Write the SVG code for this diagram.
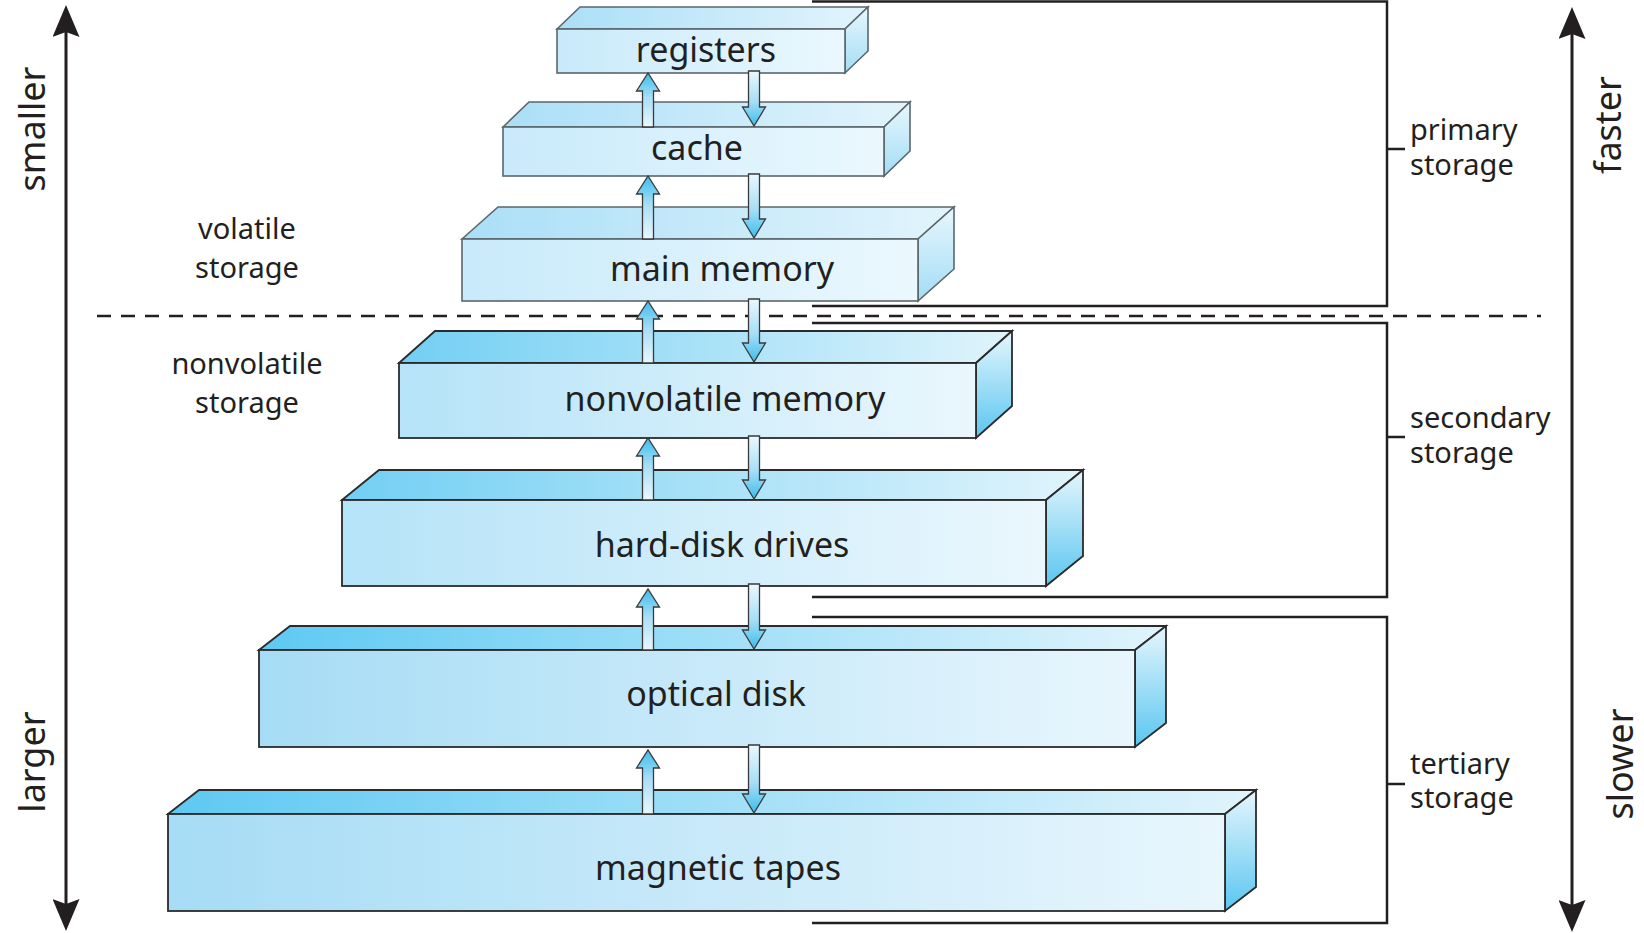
<svg xmlns="http://www.w3.org/2000/svg" width="1644" height="933" viewBox="0 0 1644 933">
<defs>
<linearGradient id="fL" x1="0" y1="0" x2="1" y2="0"><stop offset="0" stop-color="#c8eafa"/><stop offset="1" stop-color="#ebf8fe"/></linearGradient>
<linearGradient id="fM" x1="0" y1="0" x2="1" y2="0"><stop offset="0" stop-color="#b5e3f8"/><stop offset="1" stop-color="#eaf7fd"/></linearGradient>
<linearGradient id="fD" x1="0" y1="0" x2="1" y2="0"><stop offset="0" stop-color="#a6dcf5"/><stop offset="1" stop-color="#e8f6fd"/></linearGradient>
<linearGradient id="tL" x1="0" y1="0" x2="1" y2="0"><stop offset="0" stop-color="#aadff7"/><stop offset="1" stop-color="#e2f4fc"/></linearGradient>
<linearGradient id="tM" x1="0" y1="0" x2="1" y2="0"><stop offset="0" stop-color="#72cff3"/><stop offset="1" stop-color="#e0f4fc"/></linearGradient>
<linearGradient id="tD" x1="0" y1="0" x2="1" y2="0"><stop offset="0" stop-color="#5ec9f2"/><stop offset="1" stop-color="#e0f4fc"/></linearGradient>
<linearGradient id="sL" x1="0" y1="0" x2="0" y2="1"><stop offset="0" stop-color="#e8f7fd"/><stop offset="1" stop-color="#a2ddf6"/></linearGradient>
<linearGradient id="sD" x1="0" y1="0" x2="0" y2="1"><stop offset="0" stop-color="#e6f6fd"/><stop offset="1" stop-color="#5ac6f0"/></linearGradient>
<linearGradient id="gUp" x1="0" y1="1" x2="0" y2="0"><stop offset="0" stop-color="#eaf8fe"/><stop offset="0.55" stop-color="#a8def6"/><stop offset="1" stop-color="#3cbdec"/></linearGradient>
<linearGradient id="gDn" x1="0" y1="0" x2="0" y2="1"><stop offset="0" stop-color="#eaf8fe"/><stop offset="0.55" stop-color="#a8def6"/><stop offset="1" stop-color="#3cbdec"/></linearGradient>
<marker id="ah" viewBox="0 0 32 27" refX="5" refY="13.5" markerWidth="32" markerHeight="27" orient="auto-start-reverse" markerUnits="userSpaceOnUse"><path d="M0,0 L32,13.5 L0,27 L5,13.5 Z" fill="#231f20"/></marker>
</defs>
<style>
.e1{stroke:#5b666b;stroke-width:1.6;stroke-linejoin:miter}
.e2{stroke:#2b2b2b;stroke-width:1.8;stroke-linejoin:miter}
text{font-family:"Noto Sans","Open Sans",sans-serif;fill:#231f20}
.lbl{font-size:34px;text-anchor:middle}
.sm{font-size:29px}
.mid{text-anchor:middle}
.big{font-size:36px;text-anchor:middle}
.br{fill:none;stroke:#231f20;stroke-width:2.5}
.ax{fill:none;stroke:#231f20;stroke-width:3;marker-start:url(#ah);marker-end:url(#ah)}
.ua{fill:url(#gUp);stroke:#3a3a3a;stroke-width:1.3}
.da{fill:url(#gDn);stroke:#3a3a3a;stroke-width:1.3}
.dash{fill:none;stroke:#231f20;stroke-width:2.5;stroke-dasharray:14 10}
</style>
<rect width="1644" height="933" fill="#ffffff"/>

<path class="dash" d="M97,316 H1541"/>

<g id="registers">
<polygon class="e1" fill="url(#tL)" points="557,29 580,7 868,7 845,29"/>
<polygon class="e1" fill="url(#sL)" points="845,29 868,7 868,51 845,73"/>
<rect class="e1" fill="url(#fL)" x="557" y="29" width="288" height="44"/>
<text class="lbl" x="706" y="62">registers</text>
</g>
<g id="cache">
<polygon class="e1" fill="url(#tL)" points="503,127 529,102 910,102 884,127"/>
<polygon class="e1" fill="url(#sL)" points="884,127 910,102 910,151 884,176"/>
<rect class="e1" fill="url(#fL)" x="503" y="127" width="381" height="49"/>
<text class="lbl" x="697" y="160">cache</text>
</g>
<g id="main-memory">
<polygon class="e1" fill="url(#tL)" points="462,239 498,207 954,207 918,239"/>
<polygon class="e1" fill="url(#sL)" points="918,239 954,207 954,269 918,301"/>
<rect class="e1" fill="url(#fL)" x="462" y="239" width="456" height="62"/>
<text class="lbl" x="722" y="281">main memory</text>
</g>
<g id="nonvolatile-memory">
<polygon class="e2" fill="url(#tM)" points="399,363 435,331 1012,331 976,363"/>
<polygon class="e2" fill="url(#sD)" points="976,363 1012,331 1012,406 976,438"/>
<rect class="e2" fill="url(#fM)" x="399" y="363" width="577" height="75"/>
<text class="lbl" x="725" y="411">nonvolatile memory</text>
</g>
<g id="hard-disk-drives">
<polygon class="e2" fill="url(#tM)" points="342,500 379,470 1083,470 1046,500"/>
<polygon class="e2" fill="url(#sD)" points="1046,500 1083,470 1083,556 1046,586"/>
<rect class="e2" fill="url(#fM)" x="342" y="500" width="704" height="86"/>
<text class="lbl" x="722" y="557">hard-disk drives</text>
</g>
<g id="optical-disk">
<polygon class="e2" fill="url(#tD)" points="259,650 290,626 1166,626 1135,650"/>
<polygon class="e2" fill="url(#sD)" points="1135,650 1166,626 1166,723 1135,747"/>
<rect class="e2" fill="url(#fD)" x="259" y="650" width="876" height="97"/>
<text class="lbl" x="716" y="706">optical disk</text>
</g>
<g id="magnetic-tapes">
<polygon class="e2" fill="url(#tD)" points="168,814 199,790 1256,790 1225,814"/>
<polygon class="e2" fill="url(#sD)" points="1225,814 1256,790 1256,887 1225,911"/>
<rect class="e2" fill="url(#fD)" x="168" y="814" width="1057" height="97"/>
<text class="lbl" x="718" y="880">magnetic tapes</text>
</g>

<g id="connectors">
<path class="ua" d="M642.5,127 V91 H636.5 L648,73 L659.5,91 H653.5 V127 Z"/>
<path class="da" d="M748.5,71 H759.5 V107 H765.5 L754,126 L742.5,107 H748.5 Z"/>
<path class="ua" d="M642.5,239 V194 H636.5 L648,176 L659.5,194 H653.5 V239 Z"/>
<path class="da" d="M748.5,174 H759.5 V219 H765.5 L754,238 L742.5,219 H748.5 Z"/>
<path class="ua" d="M642.5,363 V319 H636.5 L648,301 L659.5,319 H653.5 V363 Z"/>
<path class="da" d="M748.5,299 H759.5 V343 H765.5 L754,362 L742.5,343 H748.5 Z"/>
<path class="ua" d="M642.5,500 V456 H636.5 L648,438 L659.5,456 H653.5 V500 Z"/>
<path class="da" d="M748.5,436 H759.5 V480 H765.5 L754,499 L742.5,480 H748.5 Z"/>
<path class="ua" d="M642.5,650 V607 H636.5 L648,589 L659.5,607 H653.5 V650 Z"/>
<path class="da" d="M748.5,584 H759.5 V630 H765.5 L754,649 L742.5,630 H748.5 Z"/>
<path class="ua" d="M642.5,814 V768 H636.5 L648,750 L659.5,768 H653.5 V814 Z"/>
<path class="da" d="M748.5,745 H759.5 V794 H765.5 L754,813 L742.5,794 H748.5 Z"/>
</g>

<g id="brackets">
<path class="br" d="M812,1.5 H1387 V306 H812 M1387,149 H1405"/>
<path class="br" d="M812,323 H1387 V597 H812 M1387,437 H1405"/>
<path class="br" d="M812,617 H1387 V923 H812 M1387,784 H1405"/>
</g>

<g id="axes">
<path class="ax" d="M66,32 V904"/>
<path class="ax" d="M1572,34 V905"/>
<text class="big" transform="translate(45,129) rotate(-90)">smaller</text>
<text class="big" transform="translate(45,762) rotate(-90)">larger</text>
<text class="big" transform="translate(1621,125) rotate(-90)">faster</text>
<text class="big" transform="translate(1633,764) rotate(-90)">slower</text>
</g>

<g id="labels">
<text class="sm mid" x="247" y="239">volatile</text>
<text class="sm mid" x="247" y="278">storage</text>
<text class="sm mid" x="247" y="374">nonvolatile</text>
<text class="sm mid" x="247" y="413">storage</text>
<text class="sm" x="1410" y="140">primary</text>
<text class="sm" x="1410" y="175">storage</text>
<text class="sm" x="1410" y="428">secondary</text>
<text class="sm" x="1410" y="463">storage</text>
<text class="sm" x="1410" y="774">tertiary</text>
<text class="sm" x="1410" y="808">storage</text>
</g>
</svg>
